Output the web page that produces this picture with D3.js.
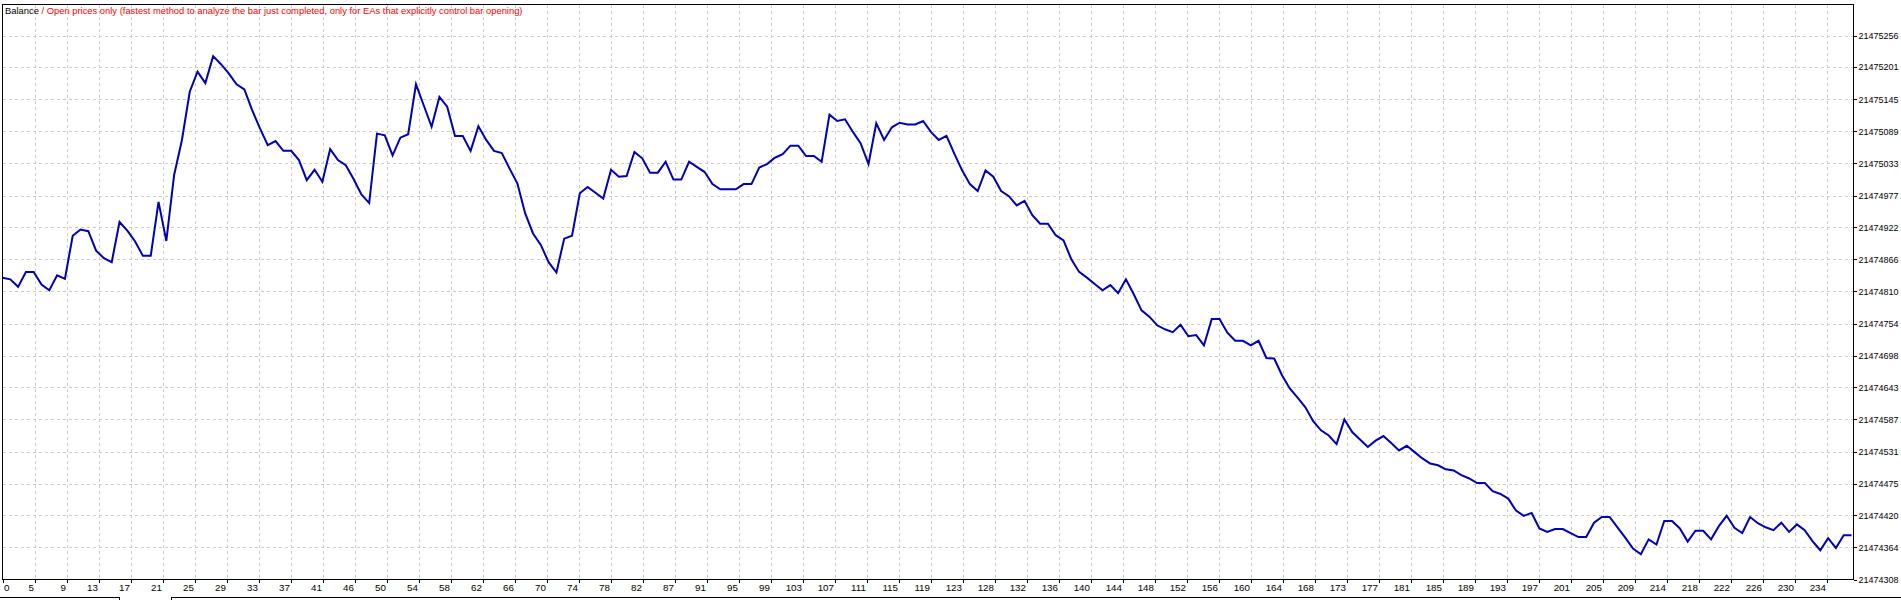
<!DOCTYPE html>
<html><head><meta charset="utf-8">
<script src="https://cdn.jsdelivr.net/npm/d3@7"></script>
<style>html,body{margin:0;padding:0;background:#fff;overflow:hidden}svg{display:block}</style>
</head><body>
<svg id="c" width="1901" height="600"></svg>
<script>
const balance = [
21474834,21474831,21474818,21474844,21474844,21474822,21474812,21474838,21474832,21474907,
21474918,21474915,21474881,21474868,21474861,21474931,21474916,21474897,21474872,21474872,
21474966,21474898,21475013,21475074,21475158,21475193,21475173,21475220,21475206,21475190,
21475171,21475162,21475126,21475094,21475065,21475072,21475055,21475055,21475039,21475004,
21475022,21475001,21475058,21475039,21475030,21475006,21474979,21474964,21475085,21475082,
21475047,21475078,21475084,21475171,21475134,21475097,21475149,21475132,21475081,21475081,
21475055,21475098,21475074,21475055,21475051,21475024,21474998,21474946,21474911,21474891,
21474861,21474843,21474902,21474907,21474981,21474992,21474982,21474972,21475022,21475010,
21475011,21475053,21475042,21475017,21475017,21475036,21475005,21475005,21475036,21475027,
21475018,21474997,21474988,21474988,21474988,21474997,21474997,21475026,21475032,21475043,
21475049,21475064,21475064,21475046,21475046,21475036,21475118,21475107,21475110,21475088,
21475068,21475032,21475103,21475074,21475096,21475104,21475101,21475101,21475107,21475088,
21475074,21475081,21475050,21475021,21474997,21474985,21475021,21475010,21474985,21474976,
21474960,21474968,21474943,21474928,21474928,21474908,21474899,21474866,21474844,21474834,
21474823,21474812,21474821,21474807,21474831,21474805,21474777,21474766,21474751,21474744,
21474739,21474752,21474732,21474734,21474716,21474762,21474762,21474738,21474724,21474724,
21474716,21474724,21474694,21474693,21474664,21474641,21474625,21474608,21474584,21474568,
21474559,21474544,21474587,21474565,21474552,21474539,21474550,21474558,21474546,21474533,
21474541,21474530,21474519,21474510,21474507,21474500,21474498,21474490,21474484,21474476,
21474476,21474462,21474457,21474449,21474428,21474419,21474424,21474397,21474391,21474396,
21474396,21474389,21474382,21474382,21474407,21474417,21474417,21474399,21474381,21474362,
21474352,21474378,21474369,21474410,21474410,21474397,21474374,21474393,21474393,21474378,
21474401,21474419,21474398,21474389,21474417,21474406,21474399,21474394,21474407,21474391,
21474404,21474394,21474375,21474359,21474380,21474363,21474385,21474385
];
const xTickLabels = [0,5,9,13,17,21,25,29,33,37,41,46,50,54,58,62,66,70,74,78,82,87,91,95,99,103,107,111,115,119,123,128,132,136,140,144,148,152,156,160,164,168,173,177,181,185,189,193,197,201,205,209,214,218,222,226,230,234];
const yTickLabels = [21474308,21474364,21474420,21474475,21474531,21474587,21474643,21474698,21474754,21474810,21474866,21474922,21474977,21475033,21475089,21475145,21475201,21475256];
const titleSeries = "Balance";
const titleSep = " / ";
const titleMode = "Open prices only (fastest method to analyze the bar just completed, only for EAs that explicitly control bar opening)";

const svg = d3.select("#c");
const L = 2.5, R = 1853.5, T = 4.5, B = 579.5;
const FONT = "'Liberation Sans', Arial, sans-serif";

const x = d3.scaleLinear().domain([0, balance.length - 1]).range([L, 1851.5]);
const xGrid = d3.scalePoint().domain(xTickLabels).range([L, L + (xTickLabels.length - 1) * 32]);
const y = d3.scaleLinear().domain([yTickLabels[0], yTickLabels[yTickLabels.length - 1]]).range([B, 35.5]);

// grid
const grid = svg.append("g").attr("shape-rendering", "crispEdges")
  .attr("stroke", "#cccccc").attr("stroke-width", 1).attr("stroke-dasharray", "3,3");
grid.selectAll("line.h").data(yTickLabels.slice(1).concat([null])).join("line")
  .attr("x1", L).attr("x2", R)
  .attr("y1", d => d === null ? T : Math.round(y(d)) + 0.5)
  .attr("y2", d => d === null ? T : Math.round(y(d)) + 0.5);
grid.selectAll("line.v").data(xTickLabels.slice(1)).join("line")
  .attr("y1", T).attr("y2", B)
  .attr("x1", d => Math.round(xGrid(d)) + 0.5).attr("x2", d => Math.round(xGrid(d)) + 0.5);

// title
const title = svg.append("text").attr("x", 5).attr("y", 14)
  .attr("font-family", FONT).attr("font-size", 9.4);
title.append("tspan").attr("fill", "#000").text(titleSeries);
title.append("tspan").attr("fill", "#ff0000").attr("xml:space", "preserve").text(titleSep + titleMode);

// balance line
svg.append("path").datum(balance)
  .attr("fill", "none").attr("stroke", "#0000b4").attr("stroke-width", 2)
  .attr("stroke-linejoin", "miter")
  .attr("d", d3.line().x((d, i) => x(i)).y(d => y(d)));

// frame
svg.append("rect").attr("x", L).attr("y", T).attr("width", R - L).attr("height", B - T)
  .attr("fill", "none").attr("stroke", "#000").attr("shape-rendering", "crispEdges");

// y axis (right)
const yAxis = d3.axisRight(y).tickValues(yTickLabels).tickSize(3).tickPadding(2)
  .tickFormat(d => String(d));
const gy = svg.append("g").attr("transform", `translate(${R},0)`).call(yAxis);
gy.select(".domain").remove();
gy.selectAll("line").attr("shape-rendering", "crispEdges");
gy.selectAll("text").attr("font-family", FONT).attr("font-size", 9).attr("fill", "#000");

// x axis (bottom)
const xAxis = d3.axisBottom(xGrid).tickSize(3).tickPadding(2);
const gx = svg.append("g").attr("transform", `translate(0,${B})`).call(xAxis);
gx.select(".domain").remove();
gx.selectAll("line").attr("shape-rendering", "crispEdges");
gx.selectAll("text").attr("font-family", FONT).attr("font-size", 9.8).attr("fill", "#000")
  .attr("text-anchor", (d, i) => i === 0 ? "start" : "end")
  .attr("dx", (d, i) => i === 0 ? 1 : -1);

// bottom tab outlines
const tabs = svg.append("g").attr("fill", "none").attr("stroke", "#000").attr("shape-rendering", "crispEdges");
tabs.append("path").attr("d", "M0,597.5H119.5V601");
tabs.append("path").attr("d", "M171.5,601V597.5H1901");
</script>
</body></html>
